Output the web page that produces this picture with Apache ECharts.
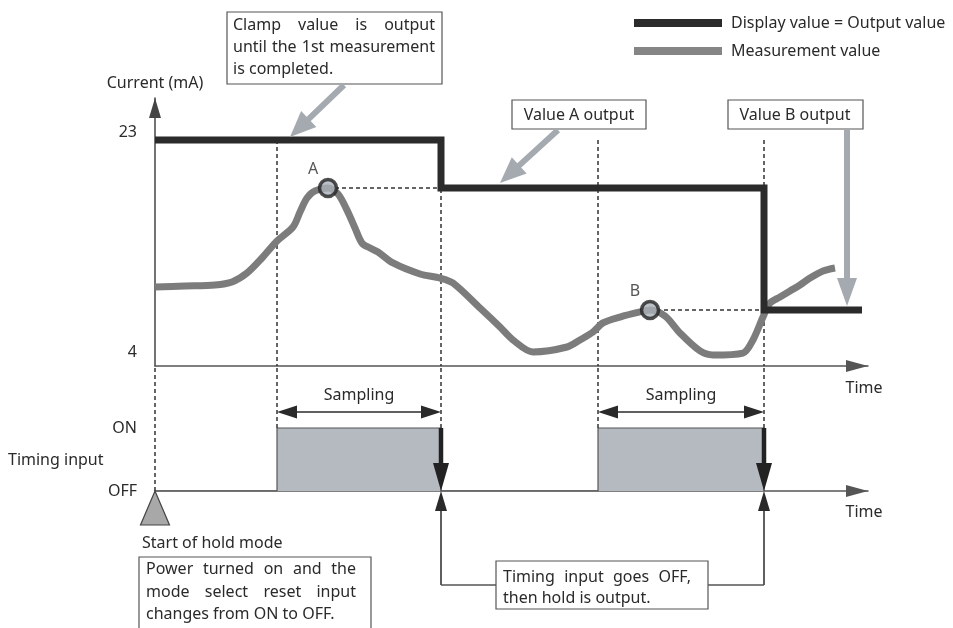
<!DOCTYPE html>
<html>
<head>
<meta charset="utf-8">
<script src="https://cdn.jsdelivr.net/npm/echarts@6/dist/echarts.min.js"></script>
<style>
    html, body { margin: 0; padding: 0; background: #fff; }
    #main { width: 953px; height: 628px; }
</style>
</head>
<body>
<div id="main"></div>
<script>
    // measurement curve (time units, mA)
    var measTime = [0, 3, 6, 7.7, 9.2, 10.7, 12.2, 13.8, 14.5, 15.2, 16, 17.3, 18.3, 19.2, 20, 20.7, 21.5, 22.3, 23.8, 26.5,
        28.5, 29.8, 32.5, 34.5, 35.8, 37.8, 41.2, 42.5, 43.8, 44.8, 46.5, 48.5, 49.5, 51, 52.5, 54.5, 55.8, 58.8, 59.8, 60.8,
        61.5, 62.5, 63.5, 64.5, 65.5, 66.8, 68];
    var measValue = [10.3, 10.39, 10.48, 10.74, 11.51, 12.81, 14.28, 15.49, 16.78, 17.99, 18.6, 18.85, 18.34, 16.95, 15.4, 14.1, 13.67, 13.33, 12.38, 11.43,
        11.08, 10.65, 8.49, 6.85, 5.73, 4.69, 5.12, 5.73, 6.42, 7.2, 7.71, 8.15, 8.32, 7.8, 6.33, 4.78, 4.43, 4.6, 5.73, 7.71,
        8.92, 9.44, 9.96, 10.48, 11.08, 11.69, 11.95];
    // display / output value
    var displayTime = [0, 28.6, 28.6, 60.9, 60.9, 70.7];
    var displayValue = [23, 23, 18.85, 18.85, 8.32, 8.32];
    // held points
    var heldName = ['A', 'B'];
    var heldTime = [17.3, 49.5];
    var heldValue = [18.85, 8.32];
    // timing input ON periods
    var samplingStart = [12.2, 44.3];
    var samplingEnd = [28.6, 60.9];
    var currentTicks = [4, 23];
    var timingTicks = ['OFF', 'ON'];

    var FONT = 'Noto Sans';
    var ink = '#2a2a2a';
    var X_MAX = 71.3, Y_MIN = 3.48, Y_MAX = 26.63;
    var SAMPLING_LEVEL = 1.254;

    function zip(xs, ys) {
        return xs.map(function (x, i) { return [x, ys[i]]; });
    }

    var timingData = [[0, 0]];
    samplingStart.forEach(function (s, i) {
        timingData.push([s, 0], [s, 1], [samplingEnd[i], 1], [samplingEnd[i], 0]);
    });

    var topGuides = [], bottomGuides = [[{coord: [0, 0]}, {coord: [0, 2]}]];
    samplingStart.concat(samplingEnd).forEach(function (t) {
        topGuides.push([{coord: [t, displayValue[0]]}, {coord: [t, Y_MIN]}]);
        bottomGuides.push([{coord: [t, 1]}, {coord: [t, 2]}]);
    });
    var holdGuides = heldTime.map(function (t, i) {
        return [{coord: [t, heldValue[i]]}, {coord: [samplingEnd[i], heldValue[i]]}];
    });

    var dashed = {color: '#333', width: 1.5, type: [4, 3]};
    function xAxisOf(g) {
        return {
            gridIndex: g, type: 'value', min: 0, max: X_MAX,
            axisLine: {onZero: false, symbol: ['none', 'triangle'], symbolSize: [12, 22], symbolOffset: [0, -11],
                lineStyle: {color: '#555', width: 1.5}},
            axisTick: {show: false}, axisLabel: {show: false}, splitLine: {show: false}
        };
    }

    var chart = echarts.init(document.getElementById('main'));
    var option = {
        animation: false,
        textStyle: {fontFamily: FONT},
        legend: {
            orient: 'vertical', left: 629, top: 10, itemWidth: 88, itemHeight: 8, itemGap: 12,
            icon: 'rect', selectedMode: false,
            data: ['Display value = Output value', 'Measurement value'],
            textStyle: {fontSize: 16, color: ink, fontFamily: FONT, padding: [0, 0, 0, 4]}
        },
        grid: [
            {left: 155, top: 98, width: 713, height: 268},
            {left: 155, top: 365, width: 713, height: 126}
        ],
        xAxis: [xAxisOf(0), xAxisOf(1)],
        yAxis: [
            {
                gridIndex: 0, type: 'value', min: Y_MIN, max: Y_MAX,
                name: 'Current (mA)', nameLocation: 'end', nameGap: 7,
                nameTextStyle: {fontSize: 16, color: ink, fontFamily: FONT},
                axisLine: {show: true, onZero: false, symbol: ['none', 'triangle'], symbolSize: [12, 20], symbolOffset: [0, -10],
                    lineStyle: {color: '#444', width: 1.5}},
                axisTick: {show: false}, splitLine: {show: false},
                axisLabel: {customValues: currentTicks, fontSize: 16, color: ink, margin: 18, verticalAlign: 'bottom'}
            },
            {
                gridIndex: 1, type: 'value', min: 0, max: 2,
                axisLine: {show: false}, axisTick: {show: false}, splitLine: {show: false},
                axisLabel: {customValues: [0, 1], fontSize: 16, color: ink, margin: 18,
                    formatter: function (v) { return timingTicks[v]; }}
            }
        ],
        series: [
            {
                name: 'Measurement value', type: 'line', xAxisIndex: 0, yAxisIndex: 0,
                data: zip(measTime, measValue), smooth: 0.3, showSymbol: false, symbol: 'none',
                color: '#858585', lineStyle: {color: '#7c7c7c', width: 7}, z: 2
            },
            {
                name: 'Display value = Output value', type: 'line', xAxisIndex: 0, yAxisIndex: 0,
                data: zip(displayTime, displayValue), showSymbol: false, symbol: 'none',
                color: '#2b2b2b', lineStyle: {color: '#2b2b2b', width: 7, join: 'miter', cap: 'butt'}, z: 4,
                markLine: {silent: true, symbol: ['none', 'none'], label: {show: false}, lineStyle: dashed,
                    data: topGuides.concat(holdGuides), z: 1}
            },
            {
                name: 'held', type: 'scatter', xAxisIndex: 0, yAxisIndex: 0,
                data: zip(heldTime, heldValue), symbolSize: 17, z: 5,
                itemStyle: {color: '#a9b0b8', borderColor: '#222', borderWidth: 3.5},
                label: {show: true, position: 'top', distance: 0, offset: [-15, 0], fontSize: 16, color: ink,
                    formatter: function (p) { return heldName[p.dataIndex]; }}
            },
            {
                name: 'Timing input', type: 'line', xAxisIndex: 1, yAxisIndex: 1,
                data: timingData, showSymbol: false, symbol: 'none',
                lineStyle: {color: '#555', width: 1.2}, areaStyle: {color: '#b5bac1', opacity: 1}, z: 2,
                markLine: {silent: true, symbol: ['none', 'none'], label: {show: false}, lineStyle: dashed, data: bottomGuides}
            }
        ]
    };
    chart.setOption(option);

    // annotations
    function px(g, p) { return chart.convertToPixel({gridIndex: g}, p); }
    var ctx = document.createElement('canvas').getContext('2d');
    var fontStr = '16px "' + FONT + '"';
    ctx.font = fontStr;
    function text(str, x, y, align) {
        return {type: 'text', x: x, y: y, z: 100,
            style: {text: str, fill: ink, font: fontStr, align: align || 'left', verticalAlign: 'middle'}};
    }
    function justify(words, x, y, width) {
        var total = 0;
        words.forEach(function (w) { total += ctx.measureText(w).width; });
        var gap = (width - total) / (words.length - 1), cx = x, out = [];
        words.forEach(function (w) {
            out.push(text(w, cx, y));
            cx += ctx.measureText(w).width + gap;
        });
        return out;
    }
    function box(x, y, w, h) {
        return {type: 'rect', z: 90, shape: {x: x, y: y, width: w, height: h},
            style: {fill: '#fff', stroke: '#555', lineWidth: 1.2}};
    }
    function line(x1, y1, x2, y2, w, color) {
        return {type: 'line', z: 95, shape: {x1: x1, y1: y1, x2: x2, y2: y2}, style: {stroke: color, lineWidth: w}};
    }
    function arrow(x1, y1, x2, y2, w, headLen, headW, color) {
        var dx = x2 - x1, dy = y2 - y1, len = Math.sqrt(dx * dx + dy * dy);
        var ux = dx / len, uy = dy / len;
        var bx = x2 - ux * headLen, by = y2 - uy * headLen;
        return [
            line(x1, y1, bx + ux, by + uy, w, color),
            {type: 'polygon', z: 96, shape: {points: [[x2, y2], [bx - uy * headW / 2, by + ux * headW / 2], [bx + uy * headW / 2, by - ux * headW / 2]]},
                style: {fill: color}}
        ];
    }

    var els = [];
    var callout = '#a5aab1';
    // clamp box
    els.push(box(227, 12, 215, 72));
    els = els.concat(justify(['Clamp', 'value', 'is', 'output'], 233, 25, 202));
    els = els.concat(justify(['until', 'the', '1st', 'measurement'], 233, 47, 202));
    els.push(text('is completed.', 233, 69));
    els = els.concat(arrow(344, 85, 290, 137, 6, 26, 22, callout));
    // value A / B boxes
    els.push(box(512, 100, 134, 29), text('Value A output', 579, 115, 'center'));
    els = els.concat(arrow(558, 130, 500, 183, 6, 26, 22, callout));
    els.push(box(728, 100, 135, 29), text('Value B output', 795, 115, 'center'));
    var bTip = px(0, [0, heldValue[1]])[1] - 4;
    els = els.concat(arrow(847, 130, 847, bTip, 6, 28, 20, callout));

    els.push(text('Time', 864, 388, 'center'), text('Time', 864, 512, 'center'));
    els.push(text('Timing input', 8, 460));

    // sampling arrows and timing edges
    var yConn = 585;
    samplingStart.forEach(function (s, i) {
        var a = px(1, [s, SAMPLING_LEVEL]), b = px(1, [samplingEnd[i], SAMPLING_LEVEL]);
        var mid = (a[0] + b[0]) / 2;
        els = els.concat(arrow(mid, a[1], a[0], a[1], 1.5, 20, 13, '#2a2a2a'));
        els = els.concat(arrow(mid, a[1], b[0], b[1], 1.5, 20, 13, '#2a2a2a'));
        els.push(text('Sampling', mid, a[1] - 17, 'center'));
        var on = px(1, [samplingEnd[i], 1]), off = px(1, [samplingEnd[i], 0]);
        els = els.concat(arrow(on[0], on[1], off[0], off[1], 4.5, 28, 16, '#222'));
        els = els.concat(arrow(off[0], yConn, off[0], off[1], 1.5, 20, 12, '#2a2a2a'));
    });
    var e0 = px(1, [samplingEnd[0], 0]), e1 = px(1, [samplingEnd[1], 0]);
    els.push(line(e0[0], yConn, 496, yConn, 1.5, '#555'), line(708, yConn, e1[0], yConn, 1.5, '#555'));
    els.push(box(496, 561, 212, 48));
    els = els.concat(justify(['Timing', 'input', 'goes', 'OFF,'], 503, 577, 188));
    els.push(text('then hold is output.', 503, 598));

    // start of hold mode
    var s0 = px(1, [0, 0]);
    els.push({type: 'polygon', z: 96, shape: {points: [[s0[0], s0[1]], [s0[0] - 14.5, s0[1] + 34], [s0[0] + 14.5, s0[1] + 34]]},
        style: {fill: '#a8a8a8', stroke: '#444', lineWidth: 1.2}});
    els.push(text('Start of hold mode', 142, 543));
    els.push(box(139, 557, 232, 80));
    els = els.concat(justify(['Power', 'turned', 'on', 'and', 'the'], 146, 569, 210));
    els = els.concat(justify(['mode', 'select', 'reset', 'input'], 146, 592, 210));
    els.push(text('changes from ON to OFF.', 146, 614));

    chart.setOption({graphic: els});
</script>
</body>
</html>
